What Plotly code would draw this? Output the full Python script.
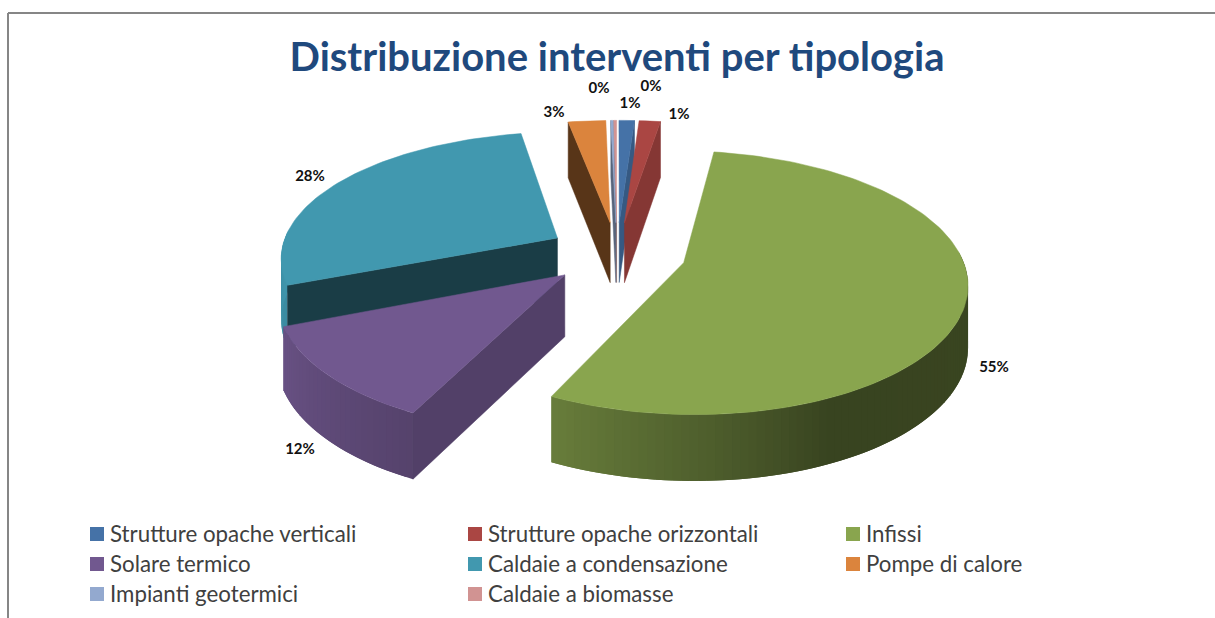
import numpy as np
import plotly.graph_objects as go

TITLE = "Distribuzione interventi per tipologia"
categories = ["Strutture opache verticali", "Strutture opache orizzontali", "Infissi",
              "Solare termico", "Caldaie a condensazione", "Pompe di calore",
              "Impianti geotermici", "Caldaie a biomasse"]
values = [1.05, 1.45, 54.8, 11.7, 28.1, 2.55, 0.15, 0.2]
colors = ["#4572A7", "#AA4643", "#89A54E", "#71588F", "#4198AF", "#DB843D", "#93A9CF", "#D19392"]

# 3D projection settings (pixels)
CX, CY, R, RE = 617.0, 253.0, 277.0, 126.0
KX, KY, KD, DEPTH, EXPLODE = 0.14, 0.15, 0.075, 61.0, 0.25
SHADE_ANGLE = [0, 90, 155, 176, 205, 248, 280, 360]
SHADE_VALUE = [0.42, 0.42, 0.41, 0.56, 0.75, 0.92, 1.0, 1.0]
RADIAL_SHADE = [0.78, 0.78, 0.6, 0.73, 0.4, 0.4, 0.6, 0.6]
LABEL_XY = [(630, 104), (679, 115), (994, 368), (300, 450), (310, 177), (554, 113), (599, 89), (651, 87)]


def project(X, Y):
    X, Y = np.asarray(X, float), np.asarray(Y, float)
    return CX + R * X / (1 + KX * Y), CY - RE * Y / (1 + KY * Y)


def drop(Y):
    return DEPTH / (1 + KD * np.asarray(Y, float))


def scale(hex_color, f):
    rgb = [int(hex_color[i:i + 2], 16) for i in (1, 3, 5)]
    return "rgb(%d,%d,%d)" % tuple(round(c * f) for c in rgb)


fig = go.Figure()


def poly(xs, ys, color, stroke=0.5):
    fig.add_trace(go.Scatter(x=list(xs) + [xs[0]], y=list(ys) + [ys[0]], mode="lines", fill="toself",
                             fillcolor=color, line=dict(color=color, width=stroke),
                             hoverinfo="skip", showlegend=False))


total = sum(values)
edges = np.concatenate([[0], np.cumsum(values)]) / total * 360
slices = []
for i, v in enumerate(values):
    a0, a1 = edges[i], edges[i + 1]
    mid = np.radians((a0 + a1) / 2)
    slices.append((EXPLODE * np.cos(mid), i, a0, a1, EXPLODE * np.sin(mid)))

for oy, i, a0, a1, ox in sorted(slices, key=lambda s: -s[0]):
    col = colors[i]
    th = np.linspace(a0, a1, max(2, int((a1 - a0) / 1.5) + 2))
    rx, ry = ox + np.sin(np.radians(th)), oy + np.cos(np.radians(th))
    px, py = project(rx, ry)
    ax, ay = project(ox, oy)
    dp, da = drop(ry), drop(oy)
    # outer wall: each strip runs under the next one, so no seams show
    for j in range(len(th) - 1):
        m = (th[j] + th[j + 1]) / 2
        if 85 < m < 272:
            e = min(j + 2, len(th) - 1)
            poly(list(px[j:e + 1]) + list(px[j:e + 1][::-1]),
                 list(py[j:e + 1]) + list((py + dp)[j:e + 1][::-1]),
                 scale(col, float(np.interp(m, SHADE_ANGLE, SHADE_VALUE))), stroke=0)
    # radial walls that face the viewer
    if np.sin(np.radians(a0)) < 0:
        poly([ax, px[0], px[0], ax], [ay, py[0], py[0] + dp[0], ay + da], scale(col, RADIAL_SHADE[i]))
    if np.sin(np.radians(a1)) > 0:
        poly([ax, px[-1], px[-1], ax], [ay, py[-1], py[-1] + dp[-1], ay + da], scale(col, RADIAL_SHADE[i]))
    poly([ax] + list(px), [ay] + list(py), col)

# percentage labels
fig.add_trace(go.Scatter(x=[p[0] for p in LABEL_XY], y=[p[1] for p in LABEL_XY], mode="text",
                         text=["%d%%" % round(v / total * 100) for v in values],
                         textfont=dict(family="Lato", size=15, color="#111111", weight="bold"),
                         hoverinfo="skip", showlegend=False))

# legend rows
for i, name in enumerate(categories):
    lx, ly = 97 + 378 * (i % 3), 534 + 30 * (i // 3)
    fig.add_trace(go.Scatter(x=[lx], y=[ly], mode="markers", marker=dict(symbol="square", size=14, color=colors[i]),
                             hoverinfo="skip", showlegend=False))
    fig.add_trace(go.Scatter(x=[lx + 13], y=[ly + 2], mode="text", text=[name], textposition="middle right",
                             textfont=dict(family="Lato", size=22.3, color="#404040"),
                             hoverinfo="skip", showlegend=False))

fig.update_layout(
    width=1215, height=618, margin=dict(l=0, r=0, t=0, b=0),
    paper_bgcolor="white", plot_bgcolor="white", showlegend=False,
    xaxis=dict(range=[0, 1215], visible=False, fixedrange=True),
    yaxis=dict(range=[618, 0], visible=False, fixedrange=True),
    title=dict(text="<b>%s</b>" % TITLE, x=617 / 1215, xanchor="center", y=1 - 57 / 618, yanchor="middle",
               font=dict(family="Lato", size=40, color="#1F497D")),
    shapes=[dict(type="line", xref="x", yref="y", x0=8, y0=13, x1=1215, y1=13, line=dict(color="#868686", width=2)),
            dict(type="line", xref="x", yref="y", x0=8, y0=13, x1=8, y1=618, line=dict(color="#868686", width=2))],
)
fig.write_html("out.html", config={"displayModeBar": False}, post_script="document.body.style.margin='0';")
